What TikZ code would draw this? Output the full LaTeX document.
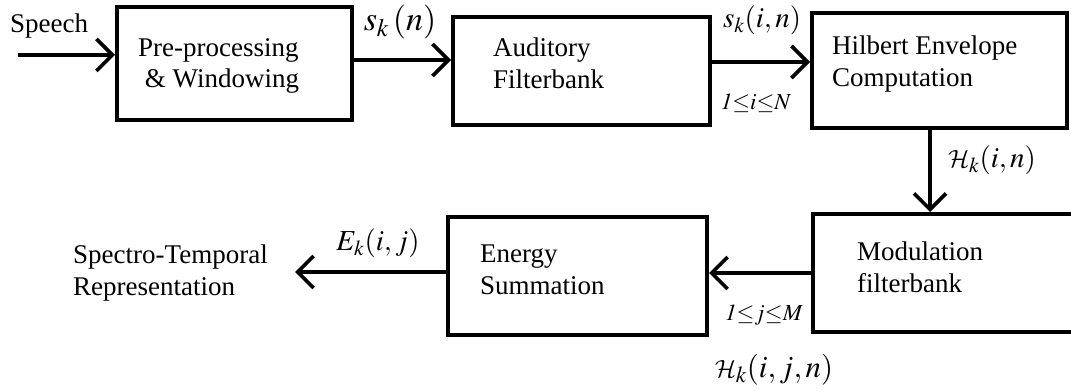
\documentclass[tikz,border=0pt]{standalone}
\usepackage{mathptmx}
\DeclareMathAlphabet{\mathcal}{OMS}{cmsy}{m}{n}
\usepackage{fontspec}
\setmainfont{Liberation Serif}
\usetikzlibrary{arrows.meta}

\begin{document}
\begin{tikzpicture}[x=1pt,y=-1pt,
  box/.style={draw,line width=4pt,rectangle,inner sep=0pt},
  arr/.style={line width=3.6pt,-{Straight Barb[length=16pt,width=32pt]}},
  txt/.style={font=\fontsize{27}{32}\selectfont,align=left,inner sep=0pt,anchor=west},
  lbl/.style={font=\fontsize{29}{34}\selectfont,inner sep=0pt},
  idx/.style={font=\fontsize{23}{27}\selectfont,inner sep=0pt}]
\useasboundingbox (0,0) rectangle (1071,390);
\clip (0,0) rectangle (1071,390);

% processing blocks
\node[box,minimum width=235pt,minimum height=113pt] (b1) at (234.5,63.5) {};
\node[box,minimum width=257pt,minimum height=108pt] (b2) at (581.5,71) {};
\node[box,minimum width=255pt,minimum height=115pt] (b3) at (939.5,70.5) {};
\node[box,minimum width=267pt,minimum height=118pt] (b4) at (946.5,273) {};
\node[box,minimum width=259pt,minimum height=118pt] (b5) at (577.5,276) {};

% block captions
\node[txt,font=\fontsize{27}{31}\selectfont] (t1) at (138,66) {Pre-processing\\\ \& Windowing};
\node[txt] (t2) at (493,63) {Auditory\\Filterbank};
\node[txt] (t3) at (832,64) {Hilbert Envelope\\Computation};
\node[txt] (t4) at (857,267) {Modulation\\filterbank};
\node[txt] (t5) at (480,270) {Energy\\Summation};

% input and output ends
\coordinate (in) at (18,55);
\coordinate (out) at (295,272);
\node[txt] (speech) at (10,26) {Speech};
\node[txt] (rep) at (73,273) {Spectro-Temporal\\Representation};

% signal flow
\draw[arr] (in) -- (in -| b1.west);
\draw[arr] ([yshift=3.5pt]b1.east) -- ([yshift=3.5pt]b1.east -| b2.west);
\draw[arr] ([yshift=9pt]b2.east) -- ([yshift=9pt]b2.east -| b3.west);
\draw[arr] ([xshift=-9.5pt]b3.south) -- ([xshift=-9.5pt]b3.south |- b4.north);
\draw[arr] (b4.west) -- (b4.west -| b5.east);
\draw[arr] ([yshift=4pt]b5.west) -- (out);

% signal labels
\node[lbl,font=\fontsize{34}{40}\selectfont] (l1) at (400,22) {$s_k\,(n)$};
\node[lbl] (l2) at (762,20) {$s_k(i,n)$};
\node[idx] (l3) at (756,103) {$\mathit{1}{\le}i{\le}N$};
\node[lbl] (l4) at (992,160) {$\mathcal{H}_k(i,n)$};
\node[lbl] (l5) at (378,243) {$E_k(i,j)$};
\node[idx] (l6) at (764,315) {$\mathit{1}{\le}j{\le}M$};
\node[lbl,font=\fontsize{31}{36}\selectfont] (l7) at (774,370) {$\mathcal{H}_k(i,j,n)$};
\end{tikzpicture}
\end{document}
